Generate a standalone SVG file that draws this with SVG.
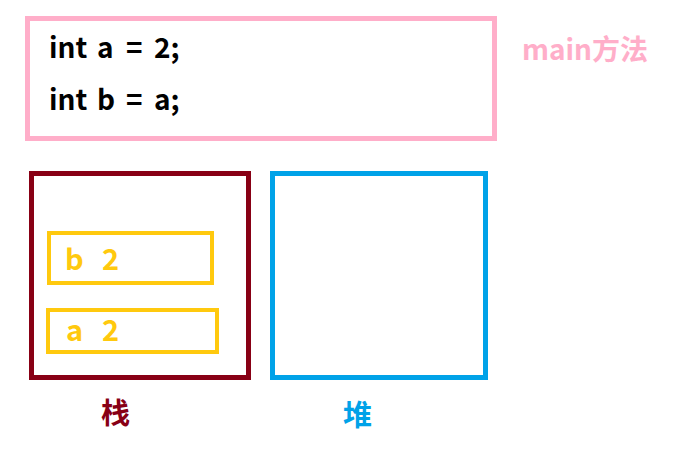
<svg xmlns="http://www.w3.org/2000/svg" width="698" height="465" viewBox="0 0 698 465">
<style>
.code{font-family:"Noto Sans CJK SC","Liberation Sans",sans-serif;font-weight:bold;font-size:28px;fill:#000}
.var{font-family:"Noto Sans CJK SC","Liberation Sans",sans-serif;font-weight:bold;font-size:29px;fill:#ffc90e}
.lbl{font-family:"Noto Sans CJK SC",sans-serif;font-weight:bold;font-size:29px}
rect{fill:none}
</style>
<rect width="698" height="465" fill="#fff" style="fill:#fff"/>
<g id="main">
<rect x="27.5" y="18.5" width="467" height="120" stroke="#ffaec9" stroke-width="5"/>
<text class="code" y="58"><tspan x="49">int</tspan><tspan x="97">a</tspan><tspan x="126">=</tspan><tspan x="154">2;</tspan></text>
<text class="code" y="110"><tspan x="49">int</tspan><tspan x="97">b</tspan><tspan x="126">=</tspan><tspan x="154">a;</tspan></text>
<text x="522" y="60" style="font-family:'Noto Sans CJK SC',sans-serif;font-weight:bold;font-size:28px;fill:#ffaec9">main方法</text>
</g>
<g id="stack">
<rect x="31.5" y="173.5" width="217" height="204" stroke="#880015" stroke-width="5"/>
<text class="lbl" x="101" y="424" fill="#880015">栈</text>
</g>
<g id="heap">
<rect x="272.5" y="173.5" width="213" height="204" stroke="#00a2e8" stroke-width="5"/>
<text class="lbl" x="343" y="426" fill="#00a2e8">堆</text>
</g>
<g id="var-b">
<rect x="49" y="233" width="163" height="50" stroke="#ffc90e" stroke-width="4"/>
<text class="var" y="270"><tspan x="65">b</tspan><tspan x="102">2</tspan></text>
</g>
<g id="var-a">
<rect x="48" y="310" width="169" height="42" stroke="#ffc90e" stroke-width="4"/>
<text class="var" y="341"><tspan x="66">a</tspan><tspan x="102">2</tspan></text>
</g>
<g id="connectors"></g>
</svg>
